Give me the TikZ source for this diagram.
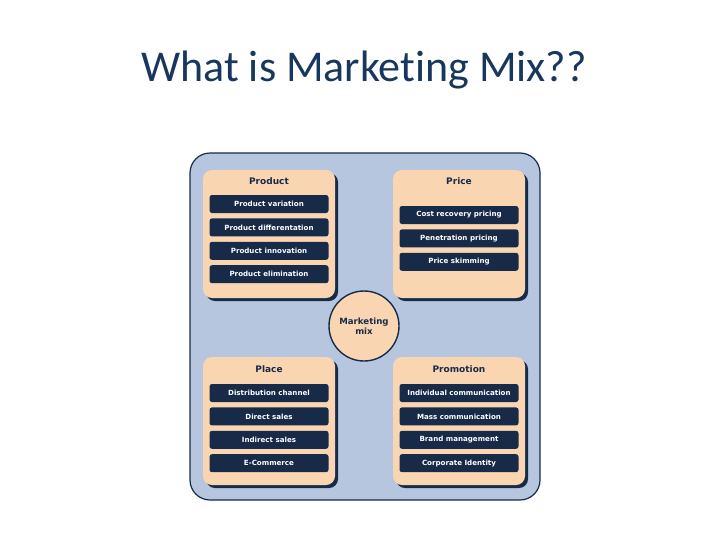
\documentclass[tikz,border=0pt]{standalone}
\usepackage{fontspec}
\setmainfont{DejaVu Sans}
\newfontfamily\titlefont[Ligatures=NoCommon]{Carlito}
\usetikzlibrary{positioning,shadows}
\definecolor{navy}{RGB}{23,43,72}
\definecolor{titleblue}{RGB}{23,55,94}
\definecolor{frameblue}{RGB}{181,198,222}
\definecolor{peach}{RGB}{250,213,178}
\tikzset{
  panel/.style    = {rectangle, rounded corners=9pt, fill=peach,
                     minimum width=132pt, minimum height=128pt,
                     drop shadow={shadow xshift=3pt, shadow yshift=-3pt,
                                  fill=navy, opacity=1}},
  header/.style   = {font=\fontsize{9}{10}\selectfont\bfseries, text=navy},
  itembox/.style  = {rectangle, rounded corners=2.5pt, fill=navy, text=white,
                     minimum width=119pt, minimum height=18pt, inner sep=0pt,
                     font=\fontsize{7.1}{8}\selectfont\bfseries},
  hub/.style      = {circle, draw=navy, line width=1.4pt, fill=peach,
                     minimum size=70pt, align=center, text=navy,
                     font=\fontsize{8.6}{10.5}\selectfont\bfseries}
}
\begin{document}
\begin{tikzpicture}[x=1pt, y=-1pt, node distance=5pt]
  \useasboundingbox (0,0) rectangle (728,546);
  % title
  \node (title) at (364,70) {\titlefont\fontsize{44}{48}\selectfont\color{titleblue}What is Marketing Mix??};
  % frame
  \draw [navy, line width=1.2pt, fill=frameblue, rounded corners=20pt]
    (190,153) rectangle (540,500);
  % four panels
  \node [panel] (product)   at (269,234) {};
  \node [panel] (price)     at (459,234) {};
  \node [panel] (place)     at (269,421) {};
  \node [panel] (promotion) at (459,421) {};
  \node [header] (productH)   at (269,181) {Product};
  \node [header] (priceH)     at (459,181) {Price};
  \node [header] (placeH)     at (269,369) {Place};
  \node [header] (promotionH) at (459,369) {Promotion};
  % product items
  \node [itembox] (pr1) at (269,204) {Product variation};
  \node [itembox, below=of pr1] (pr2) {Product differentation};
  \node [itembox, below=of pr2] (pr3) {Product innovation};
  \node [itembox, below=of pr3] (pr4) {Product elimination};
  % price items
  \node [itembox] (pc1) at (459,215) {Cost recovery pricing};
  \node [itembox, below=of pc1] (pc2) {Penetration pricing};
  \node [itembox, below=of pc2] (pc3) {Price skimming};
  % place items
  \node [itembox] (pl1) at (269,393) {Distribution channel};
  \node [itembox, below=of pl1] (pl2) {Direct sales};
  \node [itembox, below=of pl2] (pl3) {Indirect sales};
  \node [itembox, below=of pl3] (pl4) {E-Commerce};
  % promotion items
  \node [itembox] (pm1) at (459,393) {Individual communication};
  \node [itembox, below=of pm1] (pm2) {Mass communication};
  \node [itembox, below=of pm2] (pm3) {Brand management};
  \node [itembox, below=of pm3] (pm4) {Corporate Identity};
  % centre
  \node [hub] (mix) at (364,326) {Marketing\\mix};
\end{tikzpicture}
\end{document}
